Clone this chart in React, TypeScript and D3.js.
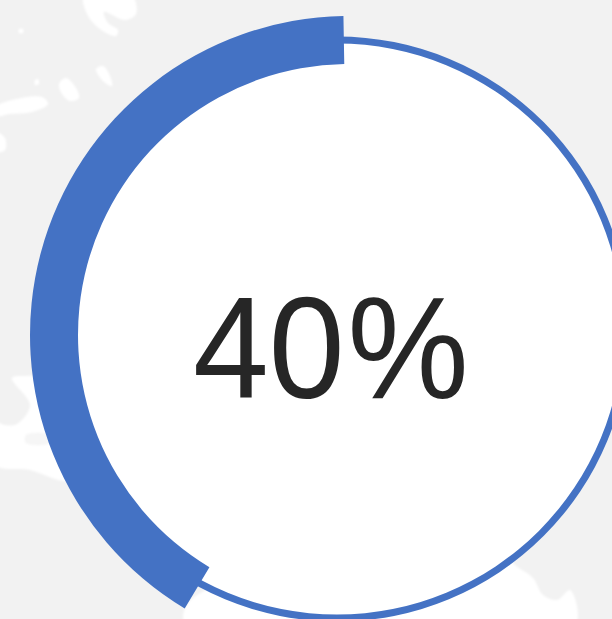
import React from "react";
import * as d3 from "d3";

const W = 612;
const H = 619;
const progressPercent = [40];
const progressSweepDegrees = [-1, -149];
const valueDigits = "40";
const valueUnit = "%";

const blobTop: [number, number][] = [[84,-4],[87,14],[100,29],[116,36],[118,30],[108,23],[104,12],[125,20],[136,14],[132,-4]];
const blobA: [number, number][] = [[59,84],[66,78],[76,88],[79,98],[70,101],[62,94]];
const blobB: [number, number][] = [[96,69],[103,66],[110,76],[112,86],[104,82]];
const blobC: [number, number][] = [[-4,107],[12,100],[42,97],[48,104],[32,112],[10,114],[-4,116]];
const blobD: [number, number][] = [[-4,132],[5,138],[5,150],[-4,152]];
const blobDot: [number, number][] = [[35,80],[38,79],[39,84],[35,85]];
const blobFaint: [number, number][] = [[19,29],[23,29],[23,33],[19,33]];
const blobLeft: [number, number][] = [[12,378],[26,376],[60,380],[90,480],[63,481],[30,470],[-4,465],[-4,422],[4,425],[17,424],[30,405]];
const blobLower: [number, number][] = [[186,606],[186,625],[350,625],[350,590],[220,585]];
const blobRight: [number, number][] = [[350,625],[400,590],[500,540],[513,563],[533,578],[543,595],[557,600],[570,590],[575,625]];
const faintBand: [number, number][] = [[26,435],[50,435],[50,443],[26,443]];

const whiteBlobs = [blobTop, blobA, blobB, blobC, blobD, blobDot, blobFaint, blobLeft, blobLower, blobRight];

export default function App() {
  const blobPath = d3.line().curve(d3.curveCatmullRomClosed.alpha(0.5));
  const toRad = d3.scaleLinear().domain([0, 360]).range([0, 2 * Math.PI]);
  const ring = d3.arc()({ innerRadius: 285.5, outerRadius: 292.5, startAngle: 0, endAngle: 2 * Math.PI })!;
  const disc = d3.arc()({ innerRadius: 0, outerRadius: 289, startAngle: 0, endAngle: 2 * Math.PI })!;
  const thick = d3.arc()({
    innerRadius: 271,
    outerRadius: 319,
    startAngle: toRad(progressSweepDegrees[0]),
    endAngle: toRad(progressSweepDegrees[1]),
  })!;
  return (
    <svg width={W} height={H} style={{ position: "absolute", left: 0, top: 0, display: "block" }} data-value={progressPercent[0]}>
      <defs>
        <filter id="soft" x="-10%" y="-10%" width="120%" height="120%">
          <feGaussianBlur stdDeviation="1" />
        </filter>
      </defs>
      <rect width={W} height={H} fill="#f2f2f2" />
      <g filter="url(#soft)">
        {whiteBlobs.map((b, i) => (
          <path key={i} d={blobPath(b)!} fill="#ffffff" />
        ))}
        <path d={blobPath(faintBand)!} fill="#f6f6f6" />
      </g>
      <g transform="translate(337,329)">
        <path d={disc} fill="#ffffff" />
        <path d={ring} fill="#4472c4" />
      </g>
      <g transform="translate(349,335)">
        <path d={thick} fill="#4472c4" />
      </g>
      <g transform="translate(193,398) scale(0.94,1)">
        <text x={0} y={0} fontFamily="Liberation Sans" fontSize={145} fill="#262626">
          {valueDigits}
          <tspan dx={3}>{valueUnit}</tspan>
        </text>
      </g>
    </svg>
  );
}
